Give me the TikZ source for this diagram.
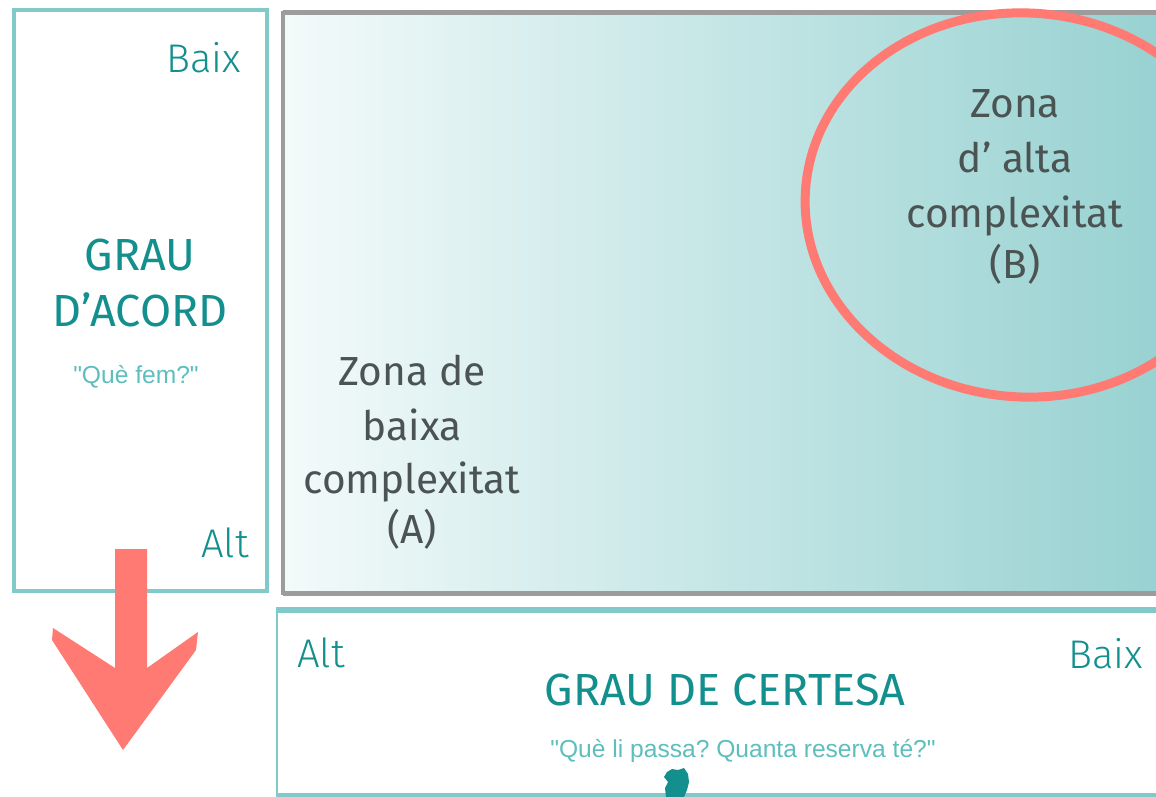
\documentclass[tikz,border=0pt]{standalone}
\usepackage{fontspec}
\setmainfont{Fira Sans}
\IfFontExistsTF{Fira Sans Light}{\newfontfamily\lightfont{Fira Sans Light}}{\newfontfamily\lightfont{Fira Sans}}
\newfontfamily\arialfont{Liberation Sans}
\frenchspacing
\definecolor{tealline}{HTML}{82C9C9}
\definecolor{tealtext}{HTML}{13908E}
\definecolor{tealquote}{HTML}{5EBEBE}
\definecolor{grayline}{HTML}{9C9C9C}
\definecolor{redmark}{HTML}{FF7A73}
\definecolor{zonetext}{HTML}{4B5353}
\definecolor{gradleft}{HTML}{F3FAFA}
\definecolor{gradright}{HTML}{97D1D1}
\begin{document}
\begin{tikzpicture}[x=1pt,y=-1pt,
  label/.style={inner sep=0pt,text=tealtext,font=\lightfont\fontsize{40}{40}\selectfont},
  title/.style={inner sep=0pt,text=tealtext,font=\fontsize{45}{45}\selectfont},
  quote/.style={inner sep=0pt,text=tealquote,font=\arialfont\fontsize{24.6}{24.6}\selectfont},
  zone/.style={inner sep=0pt,text=zonetext,font=\fontsize{40.6}{40.6}\selectfont}]
\useasboundingbox (0,0) rectangle (1156,797);
\clip (0,0) rectangle (1156,797);
\fill[white] (0,0) rectangle (1156,797);
% gradient box
\shade[left color=gradleft,right color=gradright] (283,13) rectangle (1170,593);
\draw[grayline,line width=5pt] (283,13) -- (1170,13);
\draw[grayline,line width=5pt] (283,593) -- (1170,593);
\draw[grayline,line width=4pt] (283,11) -- (283,595);
% left box
\draw[tealline,line width=4pt] (14,10) rectangle (267,591);
% bottom box
\draw[tealline,line width=6pt] (276,610) -- (1170,610);
\draw[tealline,line width=2pt] (277,612) -- (277,797);
\draw[tealline,line width=4pt] (276,795) -- (1170,795);
% ellipse
\draw[redmark,line width=9pt,rotate around={-4:(1025,205)}] (1025,205) ellipse [x radius=220, y radius=192];
% arrow
\fill[redmark] (115,549) -- (147,549) -- (147,668) -- (198,632) -- (196,650) -- (123,750)
  -- (52,640) -- (53,628) -- (115,668) -- cycle;
% blob
\fill[tealtext] (667,772) -- (672,769) -- (678,770) -- (684,768) -- (688,774) -- (689,782)
  -- (687,790) -- (684,797) -- (666,797) -- (665,788) -- (668,782) -- (664,777) -- cycle;
% texts left box
\node[label,anchor=base east] (baixL) at (241,73) {Baix};
\node[title,anchor=base] (grau1) at (140,270) {GRAU};
\node[title,anchor=base] (grau2) at (140,326) {D’ACORD};
\node[quote,anchor=base] (qfem) at (136,383) {"Què fem?"};
\node[label,anchor=base east] (altL) at (249,557) {Alt};
% zone A
\node[zone,anchor=base] (za1) at (412,385) {Zona de};
\node[zone,anchor=base] (za2) at (412,440) {baixa};
\node[zone,anchor=base] (za3) at (412,493) {complexitat};
\node[zone,anchor=base] (za4) at (412,543) {(A)};
% zone B
\node[zone,anchor=base] (zb1) at (1015,118) {Zona};
\node[zone,anchor=base] (zb2) at (1015,172) {d’ alta};
\node[zone,anchor=base] (zb3) at (1015,227) {complexitat};
\node[zone,anchor=base] (zb4) at (1015,278) {(B)};
% bottom box texts
\node[label,anchor=base west] (altB) at (297,667) {Alt};
\node[label,anchor=base east] (baixB) at (1143,668) {Baix};
\node[title,anchor=base] (certesa) at (725,705) {GRAU DE CERTESA};
\node[quote,anchor=base] (qpassa) at (743,757) {"Què li passa? Quanta reserva té?"};
\end{tikzpicture}
\end{document}
